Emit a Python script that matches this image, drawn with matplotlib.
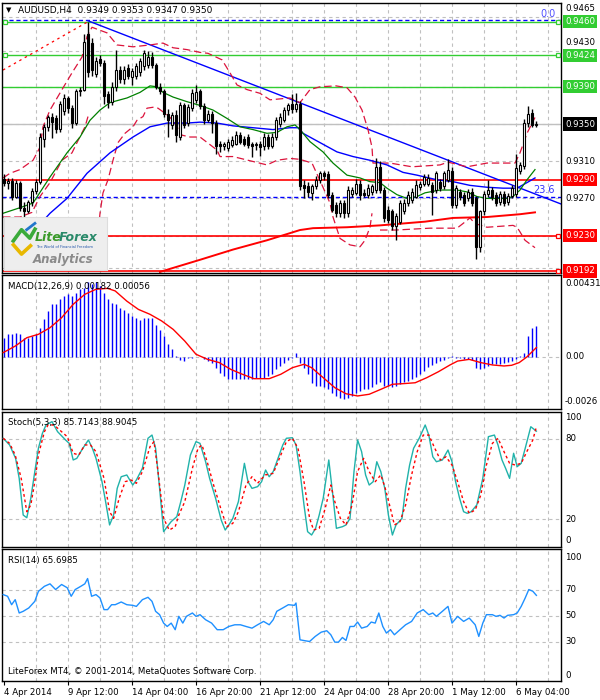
import numpy as np
import matplotlib
matplotlib.use("Agg")
import matplotlib.pyplot as plt

plt.rcParams["font.family"] = ["DejaVu Sans"]

# ---- AUDUSD H4 candles (bar index 0..133) ----
opens = [.9291, .9287, .9289, .9272, .9287, .9260, .9256, .9266, .9278, .9288,
         .9334, .9347, .9357, .9356, .9345, .9364, .9378, .9367, .9351, .9385,
         .9387, .9447, .9437, .9404, .9420, .9416, .9382, .9374, .9390, .9408,
         .9398, .9410, .9400, .9402, .9406, .9412, .9413, .9422, .9413, .9390,
         .9385, .9361, .9349, .9360, .9336, .9370, .9351, .9367, .9376, .9385,
         .9369, .9354, .9361, .9351, .9329, .9326, .9324, .9327, .9329, .9338,
         .9334, .9336, .9329, .9327, .9329, .9326, .9336, .9326, .9336, .9350,
         .9354, .9365, .9372, .9366, .9372, .9284, .9283, .9276, .9283, .9290,
         .9297, .9296, .9274, .9263, .9254, .9265, .9254, .9275, .9276, .9286,
         .9276, .9274, .9277, .9279, .9304, .9279, .9258, .9256, .9240, .9245,
         .9256, .9265, .9268, .9272, .9282, .9286, .9286, .9284, .9279, .9288,
         .9283, .9290, .9300, .9263, .9277, .9274, .9270, .9277, .9270, .9218,
         .9256, .9275, .9279, .9274, .9266, .9275, .9266, .9273, .9275, .9300,
         .9305, .9351, .9362, .9349]
highs = [.9296, .9292, .9292, .9290, .9289, .9266, .9268, .9281, .9291, .9340,
         .9350, .9360, .9362, .9360, .9375, .9382, .9380, .9370, .9388, .9390,
         .9447, .9460, .9442, .9422, .9424, .9419, .9386, .9395, .9430, .9412,
         .9412, .9414, .9410, .9416, .9421, .9430, .9428, .9427, .9416, .9394,
         .9388, .9366, .9363, .9365, .9374, .9373, .9372, .9388, .9392, .9388,
         .9373, .9365, .9364, .9354, .9332, .9331, .9334, .9337, .9342, .9341,
         .9337, .9339, .9331, .9331, .9332, .9340, .9339, .9340, .9357, .9362,
         .9368, .9373, .9382, .9383, .9375, .9290, .9288, .9286, .9294, .9300,
         .9300, .9300, .9277, .9266, .9268, .9268, .9283, .9282, .9291, .9290,
         .9280, .9285, .9286, .9313, .9310, .9282, .9262, .9259, .9254, .9268,
         .9269, .9278, .9281, .9290, .9289, .9296, .9296, .9288, .9300, .9291,
         .9299, .9312, .9304, .9284, .9280, .9277, .9280, .9281, .9273, .9258,
         .9278, .9290, .9282, .9277, .9278, .9278, .9276, .9284, .9318, .9309,
         .9355, .9369, .9366, .9353]
lows = [.9283, .9280, .9268, .9270, .9256, .9250, .9254, .9262, .9275, .9286,
        .9325, .9343, .9335, .9340, .9341, .9360, .9362, .9346, .9349, .9380,
        .9385, .9400, .9402, .9400, .9412, .9372, .9367, .9370, .9386, .9394,
        .9393, .9398, .9392, .9398, .9402, .9408, .9410, .9410, .9388, .9382,
        .9358, .9336, .9345, .9331, .9333, .9346, .9348, .9364, .9373, .9366,
        .9350, .9352, .9340, .9318, .9320, .9322, .9321, .9325, .9327, .9328,
        .9326, .9324, .9315, .9322, .9316, .9322, .9323, .9324, .9333, .9347,
        .9352, .9360, .9362, .9363, .9279, .9270, .9272, .9268, .9280, .9287,
        .9290, .9270, .9255, .9250, .9250, .9249, .9250, .9272, .9274, .9268,
        .9271, .9270, .9274, .9276, .9276, .9245, .9244, .9236, .9225, .9242,
        .9253, .9262, .9265, .9270, .9279, .9283, .9283, .9252, .9276, .9278,
        .9280, .9288, .9260, .9260, .9268, .9262, .9267, .9262, .9205, .9212,
        .9252, .9272, .9268, .9262, .9263, .9262, .9263, .9270, .9272, .9296,
        .9302, .9347, .9347, .9347]
closes = [.9287, .9289, .9272, .9287, .9260, .9256, .9266, .9278, .9288, .9336,
          .9347, .9357, .9352, .9345, .9371, .9378, .9367, .9351, .9385, .9387,
          .9438, .9406, .9408, .9418, .9416, .9380, .9374, .9390, .9408, .9398,
          .9408, .9402, .9407, .9412, .9418, .9426, .9422, .9413, .9390, .9385,
          .9361, .9354, .9360, .9338, .9370, .9349, .9368, .9383, .9384, .9369,
          .9354, .9361, .9351, .9326, .9326, .9328, .9331, .9333, .9338, .9331,
          .9329, .9327, .9326, .9328, .9325, .9336, .9326, .9336, .9354, .9358,
          .9365, .9370, .9366, .9372, .9283, .9281, .9277, .9283, .9290, .9297,
          .9294, .9274, .9258, .9254, .9265, .9254, .9279, .9279, .9286, .9274,
          .9274, .9281, .9283, .9304, .9279, .9249, .9247, .9240, .9251, .9265,
          .9265, .9274, .9277, .9284, .9286, .9293, .9292, .9277, .9297, .9281,
          .9297, .9301, .9263, .9281, .9272, .9265, .9277, .9265, .9218, .9256,
          .9275, .9279, .9272, .9265, .9275, .9265, .9273, .9281, .9303, .9306,
          .9351, .9361, .9349, .9350]

# ---- moving averages / bands (bar, price) ----
ma_green_x = [-0.25, 4, 7.25, 11.5, 15.75, 19, 21.5, 24, 26.5, 30.75, 34, 36.5, 38.25, 39.75,
              42.25, 45.75, 49, 52.25, 55.75, 59, 62.25, 65.75, 68.25, 70.75, 72.75, 74, 76.5,
              79.75, 82.25, 85.75, 89, 91.5, 94, 95.75, 98.25, 100.75, 103.25, 105.25, 109,
              113.25, 115.75, 118.25, 120.75, 125.75, 127.25, 129, 130.75, 132.75]
ma_green_y = [.9254, .9260, .9265, .9293, .9319, .9336, .9354, .9365, .9373, .9378, .9384, .9391,
              .9390, .9384, .9379, .9374, .9370, .9365, .9356, .9347, .9344, .9340, .9341, .9347,
              .9349, .9344, .9331, .9320, .9308, .9295, .9292, .9288, .9287, .9281, .9274, .9270,
              .9272, .9276, .9279, .9279, .9277, .9272, .9270, .9270, .9272, .9279, .9290, .9301]

ma_blue_x = [7.25, 11.5, 15.75, 20.75, 26.5, 32.25, 36.5, 40.75, 45.75, 49, 53.25, 57.25, 62.25,
             67.25, 71.5, 73.5, 74.75, 79, 83.25, 87.25, 91.5, 95.75, 99.75, 103.25, 105.25,
             108.25, 112.25, 116.5, 120.75, 124.75, 128.25, 130.75, 132.75]
ma_blue_y = [.9234, .9254, .9270, .9297, .9319, .9336, .9347, .9351, .9351, .9352, .9351, .9348,
             .9346, .9344, .9346, .9346, .9340, .9330, .9320, .9315, .9311, .9306, .9298, .9295,
             .9293, .9290, .9288, .9284, .9282, .9281, .9281, .9287, .9292]

ma_red_x = [39, 49, 57.25, 65.75, 74, 77.25, 85.75, 94, 105.25, 112.25, 120.75, 129, 132.75]
ma_red_y = [.9191, .9204, .9215, .9225, .9236, .9238, .9239, .9241, .9245, .9249, .9250, .9253, .9255]

bb_up_x = [-0.25, 1.5, 4, 7.25, 9, 9.75, 11.5, 14.5, 17, 19.5, 20.75, 22, 25.75, 28.25, 32.25,
           36.5, 39.75, 42.25, 45.75, 49, 51, 54.5, 56.5, 58.25, 60.75, 64, 66.5, 71.5, 74,
           76.5, 79, 83, 85.75, 87.75, 89.5, 91, 92, 92.25, 96.5, 102, 109, 111, 115.75,
           120.75, 127.75, 129, 130.75, 132.75]
bb_up_y = [.9292, .9297, .9301, .9311, .9325, .9347, .9365, .9387, .9405, .9422, .9444, .9454,
           .9448, .9435, .9433, .9435, .9437, .9432, .9430, .9427, .9426, .9419, .9405, .9392,
           .9387, .9383, .9376, .9378, .9373, .9387, .9390, .9391, .9389, .9379, .9365, .9344,
           .9325, .9308, .9308, .9304, .9306, .9309, .9304, .9308, .9308, .9319, .9340, .9357]

bb_lo_x = [-0.25, 4, 7, 9, 11.5, 14.5, 17, 18.25, 20.25, 21, np.nan,
           22.5, 23.5, 24, 24.75, 26, 27.25, 28.5, 30.25, 32.25, 33.25, 34.75, 35.75, 37.25,
           38.5, 40.75, 42.25, 44.5, 46.5, 49, 51.75, 53.25, 54, 57.25, 65.75, 68.25, 71.5,
           74, 77, 79.75, 81.5, 82.25, 84, 86.5, 89, 90.25, 91.5, 92, np.nan,
           94, 98, 106.5, 113.25, 114.75, 116.5, 117.75, 120.75, 127.25, 128.25, 129,
           130.25, 132.75]
bb_lo_y = [.9250, .9250, .9255, .9272, .9287, .9311, .9319, .9330, .9347, .9358, np.nan,
           .9200, .9233, .9254, .9276, .9290, .9311, .9330, .9340, .9347, .9354, .9358, .9367,
           .9368, .9367, .9360, .9354, .9338, .9336, .9336, .9327, .9322, .9315, .9315, .9306,
           .9311, .9313, .9312, .9308, .9282, .9265, .9250, .9227, .9220, .9218, .9225, .9239,
           .9254, np.nan,
           .9236, .9236, .9238, .9238, .9243, .9249, .9243, .9239, .9241, .9239, .9234,
           .9225, .9217]

trend_blue_x = [21, 139.25]
trend_blue_y = [.9461, .9264]
trend_red_x = [-0.25, 21]
trend_red_y = [.9408, .9460]

# ---- MACD (values in 1e-4) ----
macd_hist_e4 = [11.4, 13.4, 13.4, 14.4, 13.4, 11.4, 11.4, 12.4, 13.4, 17.3,
                22.2, 27.2, 31.1, 31.1, 34, 36, 37, 36, 38, 40,
                41, 44, 43, 44, 42, 38, 34, 32, 31, 29,
                28, 26, 24, 23, 22, 23, 23, 23, 19, 16,
                12.4, 7.5, 4.5, 0.3, -2, -2.4, -0.8, -0.8, 0.2, -0.2,
                -1.4, -2.4, -3.3, -6.3, -9.3, -11.2, -13.2, -13.2, -13.2, -13.2,
                -12.8, -12.8, -12.8, -12.2, -12.2, -12.2, -11.2, -10.2, -7.3, -5.3,
                -3.3, -2, -0.8, 2.6, -3.3, -6.3, -10.2, -15.2, -17, -17,
                -18, -19, -21, -23, -24, -25, -24, -23, -21, -20,
                -19, -19, -18, -16, -15, -17, -17, -18, -17, -16,
                -15, -14, -13, -12, -10, -8, -6, -5, -3.3, -2.4,
                -1.6, -0.8, 0.3, -0.4, -0.8, -1.4, -1.4, -2, -6.3, -7.3,
                -6.3, -5.3, -4.3, -4.3, -4.3, -3.3, -2.8, -2.4, -1.4, 0.3,
                2.6, 12.4, 17.3, 18.2]
macd_sig_x = [-0.2, 2.85, 5.7, 8.6, 11.5, 14.4, 17.3, 20.2, 23, 25.9, 27.8, 30.7, 33.6, 36.5,
              39.4, 42.3, 45.2, 48, 50.9, 53.8, 56.7, 59.6, 62.5, 66.3, 69.2, 72.1, 75, 76.9,
              79.8, 82.7, 85.5, 88.4, 91.3, 94.2, 97.1, 100, 102.8, 105.7, 108.6, 111.5, 113.4,
              116.3, 119.2, 122.1, 125, 126.9, 128.8, 130.7, 133.1]
macd_sig_e4 = [2.6, 6.5, 11.4, 13.4, 17.3, 23.2, 31.1, 37, 40, 40.5, 39, 33, 28.1, 25.2, 21.3,
               16.3, 9.4, 1.6, -1.4, -3.3, -7.3, -10.2, -12.8, -12.8, -10.2, -6.3, -4.3, -6.3,
               -12.2, -18.1, -21.7, -23, -22, -19.1, -16.1, -15.7, -15.2, -12.2, -8.7, -4.7,
               -2.4, -1.4, -3.3, -4.7, -5.3, -4.9, -3.3, 0, 5.6]

# ---- Stochastic (5,3,3) ----
stoch_x = [-0.2, 1.4, 2.9, 3.8, 4.8, 5.7, 6.7, 7.7, 8.6, 9.6, 10.5, 12.0, 13.4, 15.4, 16.3,
           17.3, 18.2, 19.7, 21.1, 22.1, 23.0, 24.5, 25.4, 26.4, 27.4, 28.3, 29.3, 30.7, 32.2,
           33.1, 34.6, 36.0, 37.0, 37.9, 38.9, 39.9, 40.8, 41.8, 43.2, 44.2, 45.2, 46.6, 48.0,
           49.0, 50.4, 51.4, 52.9, 54.3, 55.3, 56.2, 57.2, 58.6, 60.1, 61.0, 62.0, 63.4, 64.4,
           65.4, 66.3, 67.3, 68.2, 69.7, 70.6, 72.1, 73.0, 74.0, 75.0, 75.9, 76.9, 77.9, 78.8,
           79.8, 81.2, 82.2, 83.1, 84.6, 85.5, 86.5, 87.5, 88.4, 89.4, 90.4, 91.3, 92.3, 93.2,
           94.2, 95.2, 96.1, 97.1, 98.0, 99.5, 100.4, 101.4, 102.4, 103.8, 105.3, 106.2, 107.2,
           108.1, 109.6, 111.0, 112.0, 112.9, 113.9, 114.9, 115.8, 116.8, 118.2, 119.7, 121.1,
           122.6, 123.5, 124.5, 125.4, 126.4, 127.4, 128.3, 129.3, 130.3, 131.7, 133.1]
stoch_main = [80.4, 75.4, 65.4, 50.5, 23.1, 21.1, 35.6, 55.5, 72.9, 84.1, 90.3, 92.8, 85.3,
              79.1, 76.6, 64.2, 65.4, 72.9, 79.1, 72.9, 65.4, 48.0, 33.1, 15.7, 23.1, 43.0, 51.7,
              53.0, 45.5, 49.3, 58.0, 80.4, 82.8, 72.9, 43.0, 10.7, 14.4, 18.2, 21.9, 33.1, 45.5,
              67.9, 77.9, 76.6, 62.9, 50.5, 35.6, 19.4, 11.9, 15.7, 20.6, 33.1, 61.7, 48.0, 43.0,
              44.3, 48.0, 56.7, 51.7, 55.5, 62.9, 75.4, 80.4, 80.8, 75.4, 55.5, 30.6, 10.7, 8.2,
              13.2, 23.1, 35.6, 64.2, 38.1, 13.2, 14.4, 15.7, 20.6, 55.5, 79.1, 70.4, 53.0, 45.5,
              48.0, 62.9, 55.5, 43.0, 23.1, 8.2, 15.7, 20.6, 43.0, 60.4, 72.9, 80.4, 90.3, 82.8,
              66.6, 62.9, 64.2, 71.6, 62.9, 48.0, 35.6, 25.6, 24.4, 25.6, 30.6, 50.5, 81.6, 82.8,
              75.4, 64.2, 58.0, 50.5, 69.2, 59.2, 61.7, 72.9, 89.0, 85.7]
sig_x = [-0.2, 1.4, 2.8, 4.3, 5.7, 6.7, 7.7, 8.6, 10.1, 11.0, 12.5, 14.4, 15.8, 17.3, 18.7,
         20.2, 21.6, 23.0, 25.0, 26.4, 27.4, 28.8, 30.3, 31.7, 33.1, 34.6, 36.5, 37.5, 38.4,
         39.9, 41.3, 42.8, 43.7, 45.2, 47.1, 48.5, 49.5, 50.9, 52.4, 54.3, 55.7, 57.2, 58.6,
         60.5, 62.0, 63.4, 65.3, 67.3, 69.2, 70.6, 72.1, 73.5, 75.0, 76.4, 77.4, 78.8, 80.3,
         81.7, 82.7, 84.1, 85.5, 87.0, 88.4, 89.9, 91.3, 92.8, 94.2, 95.2, 96.6, 97.6, 99.0,
         100.4, 101.9, 103.3, 104.8, 106.2, 107.7, 109.1, 110.5, 112.0, 113.4, 114.9, 116.3,
         117.8, 119.2, 120.6, 122.1, 123.5, 125.0, 126.4, 127.8, 129.3, 130.7, 132.2, 133.1]
stoch_sig = [80.4, 76.6, 67.9, 50.5, 25.6, 30.6, 48.0, 67.9, 85.3, 90.3, 90.3, 85.3, 81.6,
             69.2, 67.9, 75.4, 75.4, 70.4, 50.5, 25.6, 20.6, 35.6, 48.0, 49.3, 46.8, 55.5, 74.1,
             77.9, 58.0, 20.6, 11.9, 14.4, 23.1, 33.1, 58.0, 72.9, 75.4, 61.7, 45.5, 26.9, 14.4,
             16.9, 25.6, 45.5, 51.7, 46.8, 53.0, 54.2, 67.9, 77.9, 80.4, 72.9, 48.0, 20.6, 11.9,
             13.2, 28.1, 45.5, 33.1, 20.6, 15.7, 30.6, 55.5, 65.4, 55.5, 48.0, 53.0, 44.3, 28.1,
             15.7, 18.2, 30.6, 53.0, 70.4, 82.8, 82.8, 72.9, 64.2, 66.6, 60.4, 48.0, 33.1, 24.4,
             26.9, 38.1, 60.4, 76.6, 80.4, 70.4, 61.7, 60.4, 61.7, 70.4, 79.1, 88.9]

# ---- RSI(14) ----
rsi_x = [-0.2, 0.9, 1.9, 2.8, 3.8, 4.8, 6.2, 7.7, 8.6, 10.1, 11.5, 12.9, 14.4, 15.8, 16.8,
         17.8, 19.2, 20.2, 20.9, 21.9, 23.0, 24.0, 25.0, 25.9, 26.9, 27.8, 29.3, 30.7, 32.2,
         33.1, 34.6, 36.0, 37.0, 37.9, 38.9, 39.9, 40.8, 41.8, 42.8, 43.7, 44.7, 45.6, 47.1,
         48.0, 49.0, 50.4, 51.9, 53.3, 54.8, 56.2, 57.7, 59.1, 60.5, 62.0, 63.4, 64.9, 66.3,
         67.3, 68.2, 69.7, 71.1, 72.6, 73.0, 74.0, 75.4, 76.4, 77.8, 79.3, 80.7, 81.7, 82.7,
         83.6, 84.6, 85.5, 86.5, 87.5, 88.4, 89.4, 90.8, 91.8, 92.8, 93.7, 94.7, 95.6, 96.6,
         97.6, 99.0, 100.4, 101.9, 103.3, 104.8, 106.2, 107.2, 108.1, 109.6, 111.0, 112.0,
         113.4, 114.9, 116.3, 117.8, 118.7, 119.7, 120.6, 122.1, 123.0, 124.0, 125.0, 125.9,
         127.4, 128.3, 129.3, 130.3, 131.2, 132.2, 133.1]
rsi_y = [66.3, 65.0, 58.5, 62.4, 52.1, 53.4, 56.0, 61.1, 68.8, 72.7, 74.6, 70.2, 74.1, 71.6,
         65.0, 70.2, 72.7, 74.6, 78.7, 65.0, 66.3, 63.7, 54.7, 54.7, 58.5, 58.5, 60.6, 58.5,
         58.0, 57.2, 62.4, 64.2, 61.1, 53.4, 50.8, 44.3, 41.7, 44.3, 39.2, 49.5, 44.3, 49.5,
         52.1, 49.5, 50.8, 46.9, 44.3, 39.2, 39.2, 41.7, 43.0, 43.0, 41.7, 40.4, 43.0, 45.6,
         43.0, 46.9, 53.4, 56.0, 58.5, 58.0, 59.8, 31.4, 30.6, 30.1, 34.0, 37.3, 38.4, 35.3,
         29.6, 29.6, 33.2, 30.9, 41.7, 41.7, 45.1, 40.4, 41.7, 45.1, 44.3, 52.1, 41.7, 36.6,
         39.2, 35.3, 39.2, 43.0, 45.6, 52.1, 54.7, 50.8, 52.1, 49.5, 53.4, 57.2, 44.3, 49.5,
         45.6, 48.2, 43.0, 34.0, 44.3, 50.8, 50.8, 49.5, 50.3, 48.2, 50.3, 50.8, 52.1, 57.2,
         63.7, 70.2, 68.9, 65.7]

date_bars = [0, 16, 32, 48, 64, 80, 96, 112, 128]
date_labels = ["4 Apr 2014", "9 Apr 12:00", "14 Apr 04:00", "16 Apr 20:00", "21 Apr 12:00",
               "24 Apr 04:00", "28 Apr 20:00", "1 May 12:00", "6 May 04:00"]

# price grid; only the scale labels not covered by a level box get printed
price_grid = [.9465, .9428, .9390, .9350, .9310, .9270, .9230, .9195]
scale_label_pos = [.94694, .94328, .9310, .9270]
scale_label_txt = ["0.9465", "0.9430", "0.9310", "0.9270"]

levels_green = [.9460, .9424, .9390]
levels_red = [.9290, .9230, .9192]

GRID = "#C0C0C0"
FS = 6.2

fig = plt.figure(figsize=(6, 7), dpi=100)
fig.patch.set_facecolor("white")


def panel(top, bottom):
    a = fig.add_axes([2 / 600, 1 - bottom / 700, 559 / 600, (bottom - top) / 700])
    a.set_xlim(-0.5, 139.25)
    a.set_xticks([])
    a.set_yticks([])
    for sp in a.spines.values():
        sp.set_color("black")
        sp.set_linewidth(1.0)
    for g in range(8, 140, 8):
        a.axvline(g, color=GRID, lw=0.8, ls=(0, (3, 3)), zorder=0)
    return a


def right_labels(a, vals, texts, va="center"):
    tr = a.get_yaxis_transform()
    for v, t in zip(vals, texts):
        a.text(1.007, v, t, transform=tr, fontsize=FS, va=va, ha="left",
               clip_on=False, zorder=5)


ax = panel(3, 273)
ax_macd = panel(275, 409)
ax_st = panel(412, 547)
ax_rsi = panel(549, 681)

# ---------------- main chart ----------------
ax.set_ylim(0.91898, 0.94801)
for p in price_grid:
    ax.axhline(p, color=GRID, lw=0.8, ls=(0, (3, 3)), zorder=0)
right_labels(ax, scale_label_pos[:2], scale_label_txt[:2], va="bottom")
right_labels(ax, scale_label_pos[2:], scale_label_txt[2:])

ax.axhline(0.9350, color=GRID, lw=1.0, zorder=1)
ax.axhline(0.94615, color="#0000FF", lw=1.0, ls=(0, (3, 2)), zorder=2)
ax.axhline(0.9272, color="#0000FF", lw=1.0, ls=(0, (3, 2)), zorder=2)
for p in levels_green:
    ax.axhline(p, color="#32CD32", lw=1.0, zorder=2)
for p in levels_red:
    ax.axhline(p, color="#FF0000", lw=1.2, zorder=2)

ax.plot(trend_red_x, trend_red_y, color="#FF0000", lw=0.9, ls=(0, (2, 3)), zorder=2)
ax.plot(trend_blue_x, trend_blue_y, color="#0000FF", lw=1.0, zorder=2)
ax.plot(bb_up_x, bb_up_y, color="#DC143C", lw=0.9, ls=(0, (6, 3)), zorder=2)
ax.plot(bb_lo_x, bb_lo_y, color="#DC143C", lw=0.9, ls=(0, (6, 3)), zorder=2)
ax.plot(ma_red_x, ma_red_y, color="#FF0000", lw=1.4, zorder=2)
ax.plot(ma_blue_x, ma_blue_y, color="#0000FF", lw=1.0, zorder=2)
ax.plot(ma_green_x, ma_green_y, color="#008000", lw=0.9, zorder=2)

bars = np.arange(len(closes))
o = np.array(opens)
c = np.array(closes)
ax.vlines(bars, lows, highs, color="black", lw=1.0, zorder=3)
body_bot = np.minimum(o, c)
body_h = np.maximum(np.abs(c - o), 0.00005)
body_col = ["white" if cc >= oo else "black" for oo, cc in zip(o, c)]
ax.bar(bars, body_h, bottom=body_bot, width=0.72, color=body_col,
       edgecolor="black", linewidth=0.8, zorder=4)

# anchor squares of the horizontal lines
for p in [.9460, .9424]:
    ax.plot([0.2], [p], marker="s", ms=3.2, mfc="white", mec="#32CD32", mew=0.9, zorder=5)
    ax.plot([138.4], [p], marker="s", ms=3.2, mfc="white", mec="#32CD32", mew=0.9, zorder=5)
for p in [.9230, .9192]:
    ax.plot([138.4], [p], marker="s", ms=3.2, mfc="white", mec="#FF0000", mew=0.9, zorder=5)

# price boxes on the right
tr = ax.get_yaxis_transform()
for p in levels_green:
    ax.text(1.007, p, "%.4f" % p, transform=tr, fontsize=FS, color="white", va="center",
            ha="left", clip_on=False, zorder=6,
            bbox=dict(boxstyle="square,pad=0.25", fc="#32CD32", ec="none"))
for p in levels_red:
    ax.text(1.007, p, "%.4f" % p, transform=tr, fontsize=FS, color="white", va="center",
            ha="left", clip_on=False, zorder=6,
            bbox=dict(boxstyle="square,pad=0.25", fc="#FF0000", ec="none"))
ax.text(1.007, 0.9350, "0.9350", transform=tr, fontsize=FS, color="white", va="center",
        ha="left", clip_on=False, zorder=6,
        bbox=dict(boxstyle="square,pad=0.25", fc="black", ec="none"))

ax.text(137.8, 0.94625, "0.0", fontsize=7, color="#5050FF", ha="right", va="bottom", zorder=6)
ax.text(137.8, 0.92735, "23.6", fontsize=7, color="#3030FF", ha="right", va="bottom", zorder=6)

fig.text(6 / 600, 1 - 10 / 700, "\u25bc", fontsize=5, va="center", ha="left")
fig.text(18 / 600, 1 - 10 / 700, "AUDUSD,H4  0.9349 0.9353 0.9347 0.9350", fontsize=6.5,
         va="center", ha="left")

# logo
lg = fig.add_axes([4 / 600, 1 - 270 / 700, 103 / 600, 53 / 700])
lg.set_xlim(0, 1)
lg.set_ylim(0, 1)
lg.set_xticks([])
lg.set_yticks([])
lg.set_facecolor("#EEEEEE")
for sp in lg.spines.values():
    sp.set_color("#DDDDDD")
lg.plot([0.08, 0.17, 0.25, 0.31], [0.52, 0.76, 0.6, 0.8], color="#3AAA3A", lw=2.6,
        solid_capstyle="butt")
lg.plot([0.22, 0.3], [0.76, 0.88], color="#2277CC", lw=2.0)
lg.plot([0.08, 0.17, 0.27], [0.5, 0.3, 0.48], color="#E8B800", lw=2.6, solid_capstyle="butt")
lg.text(0.30, 0.62, "Lite", fontsize=9, fontweight="bold", fontstyle="italic",
        color="#3A9A2A", va="center", ha="left")
lg.text(0.535, 0.62, "Forex", fontsize=9, fontweight="bold", fontstyle="italic",
        color="#2A8A6A", va="center", ha="left")
lg.text(0.31, 0.43, "The World of Financial Freedom", fontsize=2.6, color="#2255AA",
        va="center", ha="left")
lg.text(0.28, 0.2, "Analytics", fontsize=8.5, fontweight="bold", fontstyle="italic",
        color="#8A8A8A", va="center", ha="left")

# ---------------- MACD ----------------
ax_macd.set_ylim(-0.00307, 0.004841)
ax_macd.axhline(0, color=GRID, lw=0.8, ls=(0, (3, 3)), zorder=0)
ax_macd.vlines(bars, 0, np.array(macd_hist_e4) * 1e-4, color="#0000FF", lw=1.0, zorder=2)
ax_macd.plot(macd_sig_x, np.array(macd_sig_e4) * 1e-4, color="#FF0000", lw=1.0, zorder=3)
right_labels(ax_macd, [0.00431, 0.0, -0.0026], ["0.00431", "0.00", "-0.0026"])
fig.text(8 / 600, 1 - 286 / 700, "MACD(12,26,9) 0.00182 0.00056", fontsize=FS,
         va="center", ha="left")

# ---------------- Stochastic ----------------
ax_st.set_ylim(-0.75, 100)
for v in [80, 20]:
    ax_st.axhline(v, color=GRID, lw=0.8, ls=(0, (3, 3)), zorder=0)
ax_st.plot(stoch_x, stoch_main, color="#20B2AA", lw=1.0, zorder=3)
ax_st.plot(sig_x, stoch_sig, color="#FF0000", lw=1.0, ls=(0, (2, 2)), zorder=3)
right_labels(ax_st, [96, 80, 20, 4], ["100", "80", "20", "0"])
fig.text(8 / 600, 1 - 423 / 700, "Stoch(5,3,3) 85.7143 88.9045", fontsize=FS,
         va="center", ha="left")

# ---------------- RSI ----------------
ax_rsi.set_ylim(-0.4, 101.5)
for v in [70, 50, 30]:
    ax_rsi.axhline(v, color=GRID, lw=0.8, ls=(0, (3, 3)), zorder=0)
ax_rsi.plot(rsi_x, rsi_y, color="#1E90FF", lw=1.0, zorder=3)
right_labels(ax_rsi, [95, 70, 50, 30, 4], ["100", "70", "50", "30", "0"])
fig.text(8 / 600, 1 - 561 / 700, "RSI(14) 65.6985", fontsize=FS, va="center", ha="left")
fig.text(8 / 600, 1 - 672 / 700, "LiteForex MT4, \u00a9 2001-2014, MetaQuotes Software Corp.",
         fontsize=FS, va="center", ha="left")

ax_rsi.set_xticks(date_bars)
ax_rsi.set_xticklabels(date_labels, ha="left", fontsize=FS)
ax_rsi.tick_params(axis="x", length=3, width=0.8, pad=2, direction="out")

fig.savefig("out.png", dpi=100, facecolor="white")
